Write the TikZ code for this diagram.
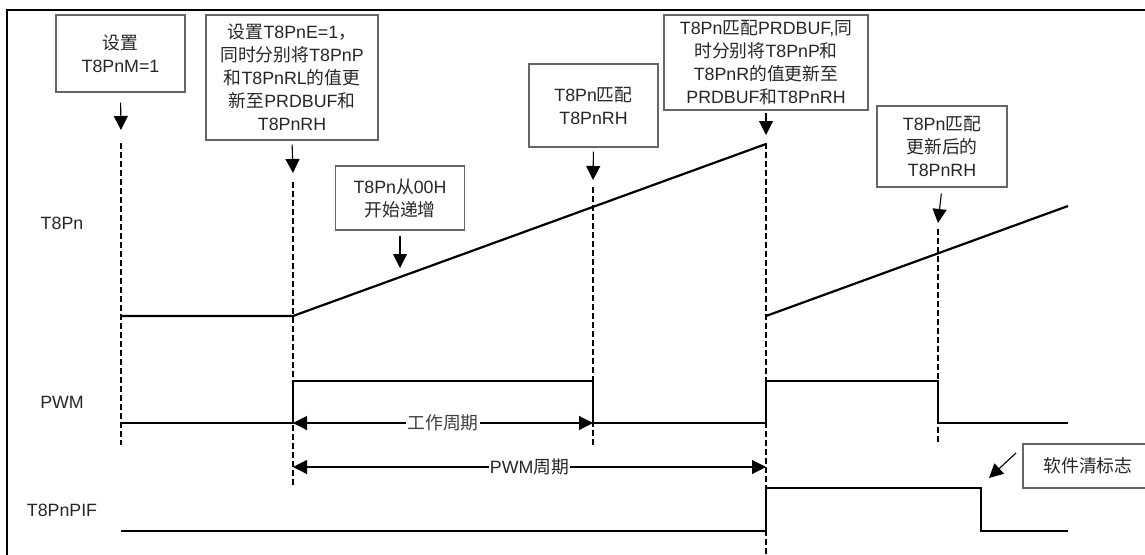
\documentclass[tikz,border=0pt]{standalone}
\usepackage{fontspec}
\setmainfont{Liberation Sans}
\newfontfamily\cjk{Noto Sans CJK SC}
\newcommand{\zh}[1]{{\cjk #1}}
\usetikzlibrary{arrows.meta,positioning}
\tikzset{
  >={Triangle[length=14pt,width=14pt]},
}

\begin{document}
\begin{tikzpicture}[
  x=1pt,y=-1pt,
  font=\fontsize{17.8}{23}\selectfont,
  note/.style={draw=black!60,line width=1.2pt,align=center,text=black!85,inner sep=2pt},
  pointer/.style={->,line width=1.1pt},
  guide/.style={line width=1.5pt,dash pattern=on 6pt off 3pt},
  wave/.style={line width=2.2pt},
  signame/.style={text=black!85}
]
  \useasboundingbox (0,0) rectangle (1145,554);
  \draw[line width=2.5pt] (7,10) rectangle (1170,580);

  % remarks above the waveforms
  \node[note,minimum width=129pt,minimum height=77pt] (b1) at (120.5,53.5)
       {\zh{设置}\\T8PnM=1};
  \node[note,minimum width=172pt,minimum height=125pt] (b2) at (292,77.5)
       {\zh{设置}T8PnE=1\zh{，}\\\zh{同时分别将}T8PnP\\\zh{和}T8PnRL\zh{的值更}\\\zh{新至}PRDBUF\zh{和}\\T8PnRH};
  \node[note,minimum width=129pt,minimum height=64pt] (b3) at (400,198)
       {T8Pn\zh{从}00H\\\zh{开始递增}};
  \node[note,minimum width=129pt,minimum height=83pt] (b4) at (593.5,105.5)
       {T8Pn\zh{匹配}\\T8PnRH};
  \node[note,minimum width=204pt,minimum height=95pt] (b5) at (766,62.5)
       {T8Pn\zh{匹配}PRDBUF,\zh{同}\\\zh{时分别将}T8PnP\zh{和}\\T8PnR\zh{的值更新至}\\PRDBUF\zh{和}T8PnRH};
  \node[note,minimum width=130pt,minimum height=81pt] (b6) at (942,146.5)
       {T8Pn\zh{匹配}\\\zh{更新后的}\\T8PnRH};
  \node[note,minimum width=130pt,minimum height=44pt] (b7) at (1088,466)
       {\zh{软件清标志}};

  \coordinate (a1) at (121,130);
  \coordinate (a2) at (293,173);
  \coordinate (a3) at (400,268);
  \coordinate (a4) at (593,180);
  \coordinate (a5) at (766,135);
  \coordinate (a6) at (938,223);
  \coordinate (c7) at (1016,453);
  \coordinate (a7) at (989,478);

  \draw[pointer,shorten <=10pt] (b1.south) -- (a1);
  \draw[pointer,shorten <=4pt] (b2.south) -- (a2);
  \draw[pointer,shorten <=5pt] (b3.south) -- (a3);
  \draw[pointer,shorten <=4pt] (b4.south) -- (a4);
  \draw[pointer,shorten <=2pt] (b5.south) -- (a5);
  \draw[pointer,shorten <=6pt] (b6.south) -- (a6);
  \draw[pointer] (c7) -- (a7);

  % time markers
  \draw[guide] (121,143) -- (121,445);
  \draw[guide] (293,182) -- (293,486);
  \draw[guide] (593,187) -- (593,445);
  \draw[guide] (766,143) -- (766,560);
  \draw[guide] (938,229) -- (938,445);

  % signal names
  \node[signame] (sT) at (62,223) {T8Pn};
  \node[signame] (sP) at (62,402) {PWM};
  \node[signame] (sF) at (62,510) {T8PnPIF};

  % waveforms
  \draw[wave] (121,316) -- (293,316) -- (766,144);
  \draw[wave] (766,316) -- (1068,206);
  \draw[wave] (121,423) -- (293,423) -- (293,381) -- (593,381) -- (593,423)
    -- (766,423) -- (766,381) -- (938,381) -- (938,423) -- (1068,423);
  \draw[wave] (121,531) -- (766,531) -- (766,488) -- (981,488) -- (981,531)
    -- (1068,531);

  % periods
  \draw[<->,line width=1.1pt] (293,423) -- node[fill=white,inner sep=1pt,text=black!75] (duty) {\zh{工作周期}} (593,423);
  \draw[<->,line width=1.1pt] (293,467) -- node[fill=white,inner sep=1pt,text=black!85] (per) {PWM\zh{周期}} (766,467);
\end{tikzpicture}
\end{document}
